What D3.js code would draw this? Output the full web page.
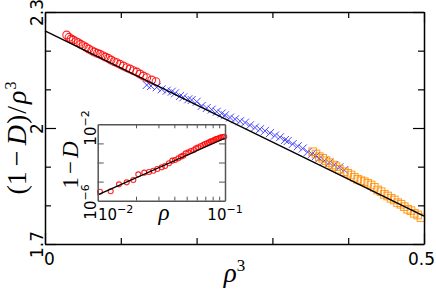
<!DOCTYPE html>
<html><head><meta charset="utf-8">
<script src="https://cdn.jsdelivr.net/npm/d3@7"></script>
<style>body{margin:0;background:#fff}</style></head>
<body><svg id="c" width="436" height="291"></svg>
<script>
// ---- main plot data: x = rho^3, y = (1-D)/rho^3 ----
const redX=[0.0286,0.0317,0.0343,0.0373,0.0409,0.0439,0.0471,0.0505,0.0541,0.0577,0.0616,0.0650,0.0690,0.0726,0.0761,0.0796,0.0835,0.0871,0.0910,0.0946,0.0989,0.1033,0.1078,0.1121,0.1165,0.1210,0.1253,0.1297,0.1342,0.1408,0.1464];
const redY=[2.2405,2.2346,2.2302,2.2276,2.2232,2.2206,2.2165,2.2128,2.2087,2.2043,2.1999,2.1966,2.1932,2.1906,2.1870,2.1836,2.1803,2.1759,2.1715,2.1689,2.1647,2.1603,2.1559,2.1526,2.1482,2.1448,2.1397,2.1345,2.1301,2.1241,2.1197];
const blueX=[0.1342,0.1398,0.1474,0.1540,0.1606,0.1672,0.1715,0.1781,0.1825,0.1891,0.1935,0.2001,0.2067,0.2133,0.2199,0.2265,0.2331,0.2375,0.2441,0.2507,0.2573,0.2639,0.2704,0.2770,0.2836,0.2902,0.2968,0.3034,0.3100,0.3166,0.3202,0.3268,0.3334,0.3400,0.3466,0.3522,0.3575,0.3619,0.3685,0.3751,0.3817,0.3883,0.3949];
const blueY=[2.1112,2.1086,2.1053,2.1001,2.0965,2.0939,2.0897,2.0828,2.0794,2.0742,2.0724,2.0680,2.0570,2.0515,2.0475,2.0420,2.0375,2.0330,2.0270,2.0225,2.0175,2.0140,2.0070,2.0012,1.9970,1.9925,1.9868,1.9805,1.9762,1.9690,1.9664,1.9586,1.9527,1.9470,1.9379,1.9328,1.9276,1.9216,1.9154,1.9103,1.9043,1.8984,1.8914];
const orangeX=[0.3532,0.3575,0.3619,0.3664,0.3707,0.3751,0.3796,0.3839,0.3883,0.3949,0.3993,0.4037,0.4080,0.4125,0.4169,0.4212,0.4257,0.4301,0.4344,0.4389,0.4433,0.4476,0.4521,0.4565,0.4608,0.4653,0.4697,0.4740,0.4785,0.4828,0.4872,0.4917,0.4960];
const orangeY=[1.9387,1.9328,1.9258,1.9216,1.9154,1.9103,1.9043,1.9000,1.8932,1.8870,1.8829,1.8785,1.8725,1.8673,1.8637,1.8611,1.8570,1.8526,1.8466,1.8397,1.8353,1.8285,1.8241,1.8182,1.8138,1.8068,1.8027,1.7965,1.7897,1.7861,1.7794,1.7750,1.7680];
const fitX=[0,0.5];
const fitY=[2.2509,1.7724];
const xTickVals=[0,0.1,0.2,0.3,0.4,0.5];
const xTickLabels=["0","","","","","0.5"];
const yTickVals=[1.7,1.8,1.9,2.0,2.1,2.2,2.3];
const yTickLabels=["1.7","","","2","","","2.3"];

// ---- inset data: x = rho, y = 1-D (log-log) ----
const insetRho=[0.01042,0.01265,0.01469,0.01690,0.01905,0.02084,0.02323,0.02529,0.02735,0.02938,0.03184,0.03381,0.03631,0.03855,0.04046,0.04295,0.04508,0.04699,0.04909,0.05152,0.05408,0.05675,0.05916,0.06166,0.06471,0.06745,0.06950,0.07211,0.07482,0.07745,0.07980,0.08241,0.08492,0.08750,0.09016,0.09290,0.09572,0.09863];
const insetOneMinusD=[2.96e-6,3.10e-6,7.19e-6,9.16e-6,1.21e-5,2.40e-5,2.94e-5,3.18e-5,3.73e-5,4.57e-5,5.58e-5,6.56e-5,9.06e-5,1.25e-4,1.35e-4,1.65e-4,2.02e-4,2.28e-4,3.02e-4,3.40e-4,4.00e-4,4.51e-4,5.51e-4,6.22e-4,7.29e-4,8.22e-4,9.29e-4,1.007e-3,1.135e-3,1.279e-3,1.387e-3,1.503e-3,1.694e-3,1.766e-3,1.914e-3,2.070e-3,2.158e-3,2.244e-3];
const insetFitRho=[0.01,0.1];
const insetFitY=[2.0e-6,1.86e-3];
const insetXMinor=[0.02,0.03,0.04,0.05,0.06,0.07,0.08,0.09];
const insetYMinor=[1e-5,1e-4,1e-3];

const svg=d3.select("#c");
const L=45,R=424,T=12,B=244;
const x=d3.scaleLinear().domain([0,0.5]).range([L,R]);
const y=d3.scaleLinear().domain([1.7,2.3]).range([B,T]);

// markers
svg.append("g").selectAll("circle").data(redX.map((d,i)=>[d,redY[i]])).join("circle")
  .attr("cx",d=>x(d[0])).attr("cy",d=>y(d[1])).attr("r",3.9)
  .attr("fill","none").attr("stroke","#ff0000").attr("stroke-width",1.1).attr("stroke-opacity",0.85);
svg.append("g").selectAll("path").data(blueX.map((d,i)=>[d,blueY[i]])).join("path")
  .attr("transform",d=>`translate(${x(d[0])},${y(d[1])})`)
  .attr("d","M-4,-4L4,4M-4,4L4,-4")
  .attr("fill","none").attr("stroke","#2a2aff").attr("stroke-width",1).attr("stroke-opacity",0.85);
svg.append("g").selectAll("rect").data(orangeX.map((d,i)=>[d,orangeY[i]])).join("rect")
  .attr("x",d=>x(d[0])-3.8).attr("y",d=>y(d[1])-3.8).attr("width",7.6).attr("height",7.6)
  .attr("fill","none").attr("stroke","#ff8c00").attr("stroke-width",1.1).attr("stroke-opacity",0.8);

// fit line
svg.append("path").datum(fitX.map((d,i)=>[d,fitY[i]]))
  .attr("d",d3.line().x(d=>x(d[0])).y(d=>y(d[1])))
  .attr("stroke","#000").attr("stroke-width",1.4).attr("fill","none");

// axes
function styleAxis(g){
  g.select(".domain").attr("stroke","#000").attr("stroke-width",1.5);
  g.selectAll(".tick line").attr("stroke","#000").attr("stroke-width",1.2);
}
const gB=svg.append("g").attr("transform",`translate(0,${B})`)
  .call(d3.axisBottom(x).tickValues(xTickVals).tickSizeInner(-6).tickSizeOuter(0).tickPadding(9).tickFormat((d,i)=>xTickLabels[i]));
gB.selectAll(".tick line").attr("y2",(d,i)=>xTickLabels[i]?-11:-6);
gB.selectAll(".tick text").attr("font-family","DejaVu Sans").attr("font-size",17).attr("fill","#000")
  .attr("dx",(d,i)=>i===0?4:(i===xTickVals.length-1?-3:0));
styleAxis(gB);
const gT=svg.append("g").attr("transform",`translate(0,${T})`)
  .call(d3.axisTop(x).tickValues(xTickVals).tickSizeInner(-6).tickSizeOuter(0).tickFormat(""));
gT.selectAll(".tick line").attr("y2",(d,i)=>xTickLabels[i]?11:6);
styleAxis(gT);
const gL=svg.append("g").attr("transform",`translate(${L},0)`)
  .call(d3.axisLeft(y).tickValues(yTickVals).tickSizeInner(-6).tickSizeOuter(0).tickFormat((d,i)=>yTickLabels[i]));
gL.selectAll(".tick line").attr("x2",(d,i)=>yTickLabels[i]?11:6);
gL.selectAll(".tick text").attr("x",null).attr("dy",null).attr("text-anchor","middle")
  .attr("transform","translate(-2,0) rotate(-90)")
  .attr("font-family","DejaVu Sans").attr("font-size",17).attr("fill","#000");
styleAxis(gL);
const gR=svg.append("g").attr("transform",`translate(${R},0)`)
  .call(d3.axisRight(y).tickValues(yTickVals).tickSizeInner(-6).tickSizeOuter(0).tickFormat(""));
gR.selectAll(".tick line").attr("x2",(d,i)=>yTickLabels[i]?-11:-6);
styleAxis(gR);

// axis titles
const serif="Liberation Serif, DejaVu Serif, serif";
const xt=svg.append("text").attr("x",(L+R)/2).attr("y",282).attr("text-anchor","middle")
  .attr("font-family",serif).attr("font-size",27);
xt.append("tspan").attr("font-style","italic").text("ρ");
xt.append("tspan").attr("font-size",17).attr("dy",-11).text("3");

const yt=svg.append("text").attr("transform","translate(26,138) rotate(-90)").attr("text-anchor","middle")
  .attr("font-family",serif).attr("font-size",28);
yt.append("tspan").text("(1");
yt.append("tspan").attr("dx",5).text("−");
yt.append("tspan").attr("dx",5).attr("font-style","italic").text("D");
yt.append("tspan").attr("dx",1).text(")");
yt.append("tspan").attr("dx",1).text("/");
yt.append("tspan").attr("dx",2).attr("font-style","italic").text("ρ");
yt.append("tspan").attr("font-size",16).attr("dy",-10).attr("dx",1).text("3");

// ---- inset ----
const IL=97.7,IR=225,IT=124.3,IB=200.7;
const xi=d3.scaleLog().domain([0.01,0.1]).range([IL,IR]);
const yi=d3.scaleLog().domain([1e-6,1e-2]).range([IB,IT]);
const ins=svg.append("g");
ins.append("rect").attr("x",IL).attr("y",IT).attr("width",IR-IL).attr("height",IB-IT).attr("fill","#fff");
ins.append("g").selectAll("circle").data(insetRho.map((d,i)=>[d,insetOneMinusD[i]])).join("circle")
  .attr("cx",d=>xi(d[0])).attr("cy",d=>yi(d[1])).attr("r",2.5)
  .attr("fill","none").attr("stroke","#ff0000").attr("stroke-width",1.1).attr("stroke-opacity",0.85);
ins.append("path").datum(insetFitRho.map((d,i)=>[d,insetFitY[i]]))
  .attr("d",d3.line().x(d=>xi(d[0])).y(d=>yi(d[1])))
  .attr("stroke","#000").attr("stroke-width",1.3).attr("fill","none");
function styleInset(g){
  g.select(".domain").attr("stroke","#555").attr("stroke-width",1.5);
  g.selectAll(".tick line").attr("stroke","#555").attr("stroke-width",1);
}
styleInset(ins.append("g").attr("transform",`translate(0,${IB})`).call(d3.axisBottom(xi).tickValues(insetXMinor).tickSizeInner(-4).tickSizeOuter(0).tickFormat("")));
styleInset(ins.append("g").attr("transform",`translate(0,${IT})`).call(d3.axisTop(xi).tickValues(insetXMinor).tickSizeInner(-4).tickSizeOuter(0).tickFormat("")));
styleInset(ins.append("g").attr("transform",`translate(${IL},0)`).call(d3.axisLeft(yi).tickValues(insetYMinor).tickSizeInner(-6).tickSizeOuter(0).tickFormat("")));
styleInset(ins.append("g").attr("transform",`translate(${IR},0)`).call(d3.axisRight(yi).tickValues(insetYMinor).tickSizeInner(-6).tickSizeOuter(0).tickFormat("")));

function powLabel(parent,tx,ty,rot,base,exp,anchor){
  const t=parent.append("text").attr("transform",`translate(${tx},${ty})${rot?" rotate(-90)":""}`)
    .attr("text-anchor",anchor).attr("font-family","DejaVu Sans").attr("font-size",15).attr("fill","#000");
  t.append("tspan").text(base);
  t.append("tspan").attr("font-size",11).attr("dy",-7).text(exp);
  return t;
}
powLabel(ins,98,220,false,"10","−2","start");
powLabel(ins,225,220,false,"10","−1","middle");
powLabel(ins,96,128,true,"10","−2","middle");
powLabel(ins,96,202,true,"10","−6","middle");

ins.append("text").attr("x",164).attr("y",220).attr("text-anchor","middle")
  .attr("font-family",serif).attr("font-size",23).attr("font-style","italic").text("ρ");
const iyt=ins.append("text").attr("transform","translate(78,165) rotate(-90)").attr("text-anchor","middle")
  .attr("font-family",serif).attr("font-size",23);
iyt.append("tspan").text("1");
iyt.append("tspan").attr("dx",3).text("−");
iyt.append("tspan").attr("dx",3).attr("font-style","italic").text("D");
</script></body></html>
